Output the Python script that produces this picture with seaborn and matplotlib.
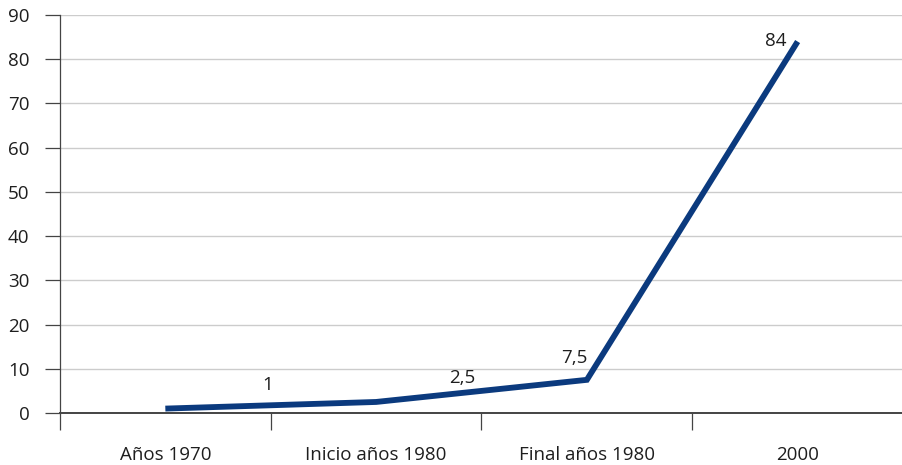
import pandas as pd
import seaborn as sns
import matplotlib.pyplot as plt
from matplotlib.ticker import FixedLocator

categories = ['Años 1970', 'Inicio años 1980', 'Final años 1980', '2000']
values = [1, 2.5, 7.5, 84]
value_labels = ['1', '2,5', '7,5', '84']

df = pd.DataFrame({'pos': range(len(categories)), 'value': values})

sns.set_style('white')
plt.rcParams['font.family'] = ['Open Sans', 'DejaVu Sans']

fig = plt.figure(figsize=(9.03, 4.65), dpi=100)
ax = fig.add_axes([0.0664, 0.1118, 0.9336, 0.8559])

sns.lineplot(data=df, x='pos', y='value', color='#0b3a7e', linewidth=4.2,
             solid_capstyle='butt', solid_joinstyle='miter', ax=ax)

# label offsets in pixels
offsets = [(102, 24), (86, 24), (-13, 22), (-22, 1)]
for x, y, txt, off in zip(df['pos'], df['value'], value_labels, offsets):
    ax.annotate(txt, (x, y), xytext=off, textcoords='offset pixels',
                ha='center', va='center', fontsize=13.5, color='#1e1e1e')

ax.set_xlim(-0.5, len(categories) - 0.5)
ax.set_ylim(0, 90)
ax.set_yticks(range(0, 91, 10))
ax.set_xticks(range(len(categories)))
ax.set_xticklabels(categories)
ax.xaxis.set_minor_locator(FixedLocator([i - 0.5 for i in range(len(categories) + 1)]))
ax.tick_params(axis='x', which='major', length=0, pad=24, labelsize=13.5, colors='#1e1e1e')
ax.tick_params(axis='x', which='minor', length=12, width=0.9, color='#444444', direction='out', bottom=True)
ax.tick_params(axis='y', length=11, width=0.9, color='#444444', pad=11, labelsize=13.5,
               labelcolor='#1e1e1e', left=True)

ax.grid(visible=True, axis='y', color='#cccccc', linewidth=1)
ax.set_axisbelow(True)
ax.spines['top'].set_visible(False)
ax.spines['right'].set_visible(False)
ax.spines['left'].set_color('#444444')
ax.spines['bottom'].set_color('#444444')
ax.spines['left'].set_linewidth(0.9)
ax.spines['bottom'].set_linewidth(1.4)
ax.set_xlabel('')
ax.set_ylabel('')

fig.savefig('out.png', dpi=100)
plt.close(fig)
